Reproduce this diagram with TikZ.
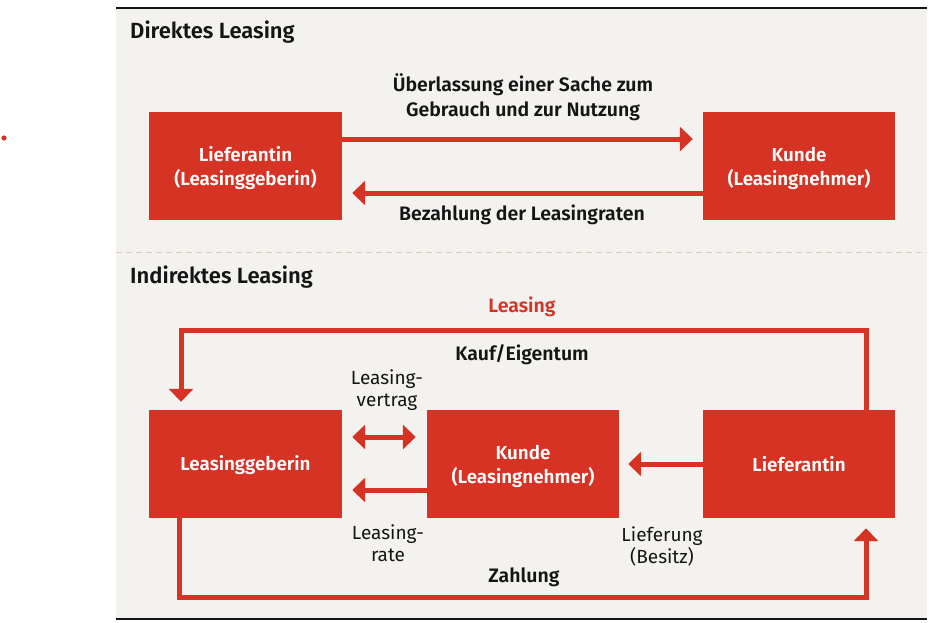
\documentclass[tikz,border=0pt]{standalone}
\usepackage{fontspec}
\setmainfont{Fira Sans}[BoldFont={Fira Sans SemiBold}]
\usetikzlibrary{arrows.meta}
\definecolor{red1}{HTML}{D73324}
\definecolor{panel}{HTML}{F4F2EF}
\definecolor{dashc}{HTML}{D8D0BA}
\definecolor{ink}{HTML}{151515}
\tikzset{
  box/.style={fill=red1, minimum width=193pt, minimum height=108pt, inner sep=0pt},
  boxtxt/.style={text=white, font=\bfseries\fontsize{18.8}{24}\selectfont, inner sep=0pt, align=center},
  conn/.style={draw=red1, line width=5pt, -{Triangle[length=13pt,width=24pt]}},
  dconn/.style={draw=red1, line width=5pt, {Triangle[length=13pt,width=24pt]}-{Triangle[length=13pt,width=24pt]}},
  lab/.style={text=ink, font=\bfseries\fontsize{19.5}{25}\selectfont, align=center, inner sep=0pt},
  rlab/.style={text=ink, font=\fontsize{19}{21.5}\selectfont, align=center, inner sep=0pt},
  ttl/.style={text=ink, font=\bfseries\fontsize{22}{24}\selectfont, anchor=west, inner sep=0pt}
}
\begin{document}
\begin{tikzpicture}[x=1pt,y=-1pt]
\useasboundingbox (0,0) rectangle (934,622);
\fill[panel] (116,8) rectangle (927,619);
\draw[ink, line width=1.5pt] (116,8) -- (927,8);
\draw[ink, line width=1.5pt] (116,619) -- (927,619);
\draw[dashc, line width=1pt, dash pattern=on 6pt off 4pt] (116,252) -- (927,252);
\fill[red1] (4,138) circle (2.6pt);

% Direct leasing
\node[ttl] (t1) at (130,32.5) {Direktes Leasing};
\node[box] (L1) at (245.5,165.5) {};
\node[boxtxt] (L1t) at (245.5,168.5) {Lieferantin\\(Leasinggeberin)};
\node[box, minimum width=192pt] (K1) at (799,165.5) {};
\node[boxtxt] (K1t) at (799,168.5) {Kunde\\(Leasingnehmer)};
\draw[conn] ([yshift=26.5pt]L1.east) -- ([xshift=-10pt,yshift=26.5pt]K1.west);
\draw[conn] ([yshift=-27.5pt]K1.west) -- ([xshift=10pt,yshift=-27.5pt]L1.east);
\node[lab] (l1) at (523,97.5) {Überlassung einer Sache zum\\Gebrauch und zur Nutzung};
\node[lab] (l2) at (522,215) {Bezahlung der Leasingraten};

% Indirect leasing
\node[ttl] (t2) at (130,277.5) {Indirektes Leasing};
\node[box] (LG) at (245.5,464) {};
\node[boxtxt] (LGt) at (245.5,465) {Leasinggeberin};
\node[box, minimum width=192pt] (K2) at (523,464) {};
\node[boxtxt] (K2t) at (523,466.5) {Kunde\\(Leasingnehmer)};
\node[box, minimum width=192pt] (LF) at (799,464) {};
\node[boxtxt] (LFt) at (799,464.5) {Lieferantin};

\coordinate (ytop) at (0,330);
\coordinate (ybot) at (0,597);
\coordinate (lgt) at ([xshift=-64.5pt]LG.north);
\coordinate (lft) at ([xshift=67pt]LF.north);
\coordinate (lgb) at ([xshift=-66pt]LG.south);
\coordinate (lfb) at ([xshift=67pt]LF.south);

\draw[conn] (lft) |- (ytop -| lgt) -- ([yshift=8pt]lgt);
\draw[conn] (lgb) |- (ybot -| lfb) -- ([yshift=-10pt]lfb);
\draw[dconn] ([xshift=10pt,yshift=27pt]LG.east) -- ([xshift=-11pt,yshift=27pt]K2.west);
\draw[conn] ([yshift=-26pt]K2.west) -- ([xshift=10pt,yshift=-26pt]LG.east);
\draw[conn] (LF.west) -- ([xshift=9pt]K2.east);

\node[lab, text=red1] (l3) at (522,306.5) {Leasing};
\node[lab] (l4) at (522,354.5) {Kauf/Eigentum};
\node[lab] (l5) at (524,577) {Zahlung};
\node[rlab] (l6) at (387,390) {Leasing-\\vertrag};
\node[rlab] (l7) at (388,543) {Leasing-\\rate};
\node[rlab] (l8) at (662,546.5) {Lieferung\\(Besitz)};
\end{tikzpicture}
\end{document}
